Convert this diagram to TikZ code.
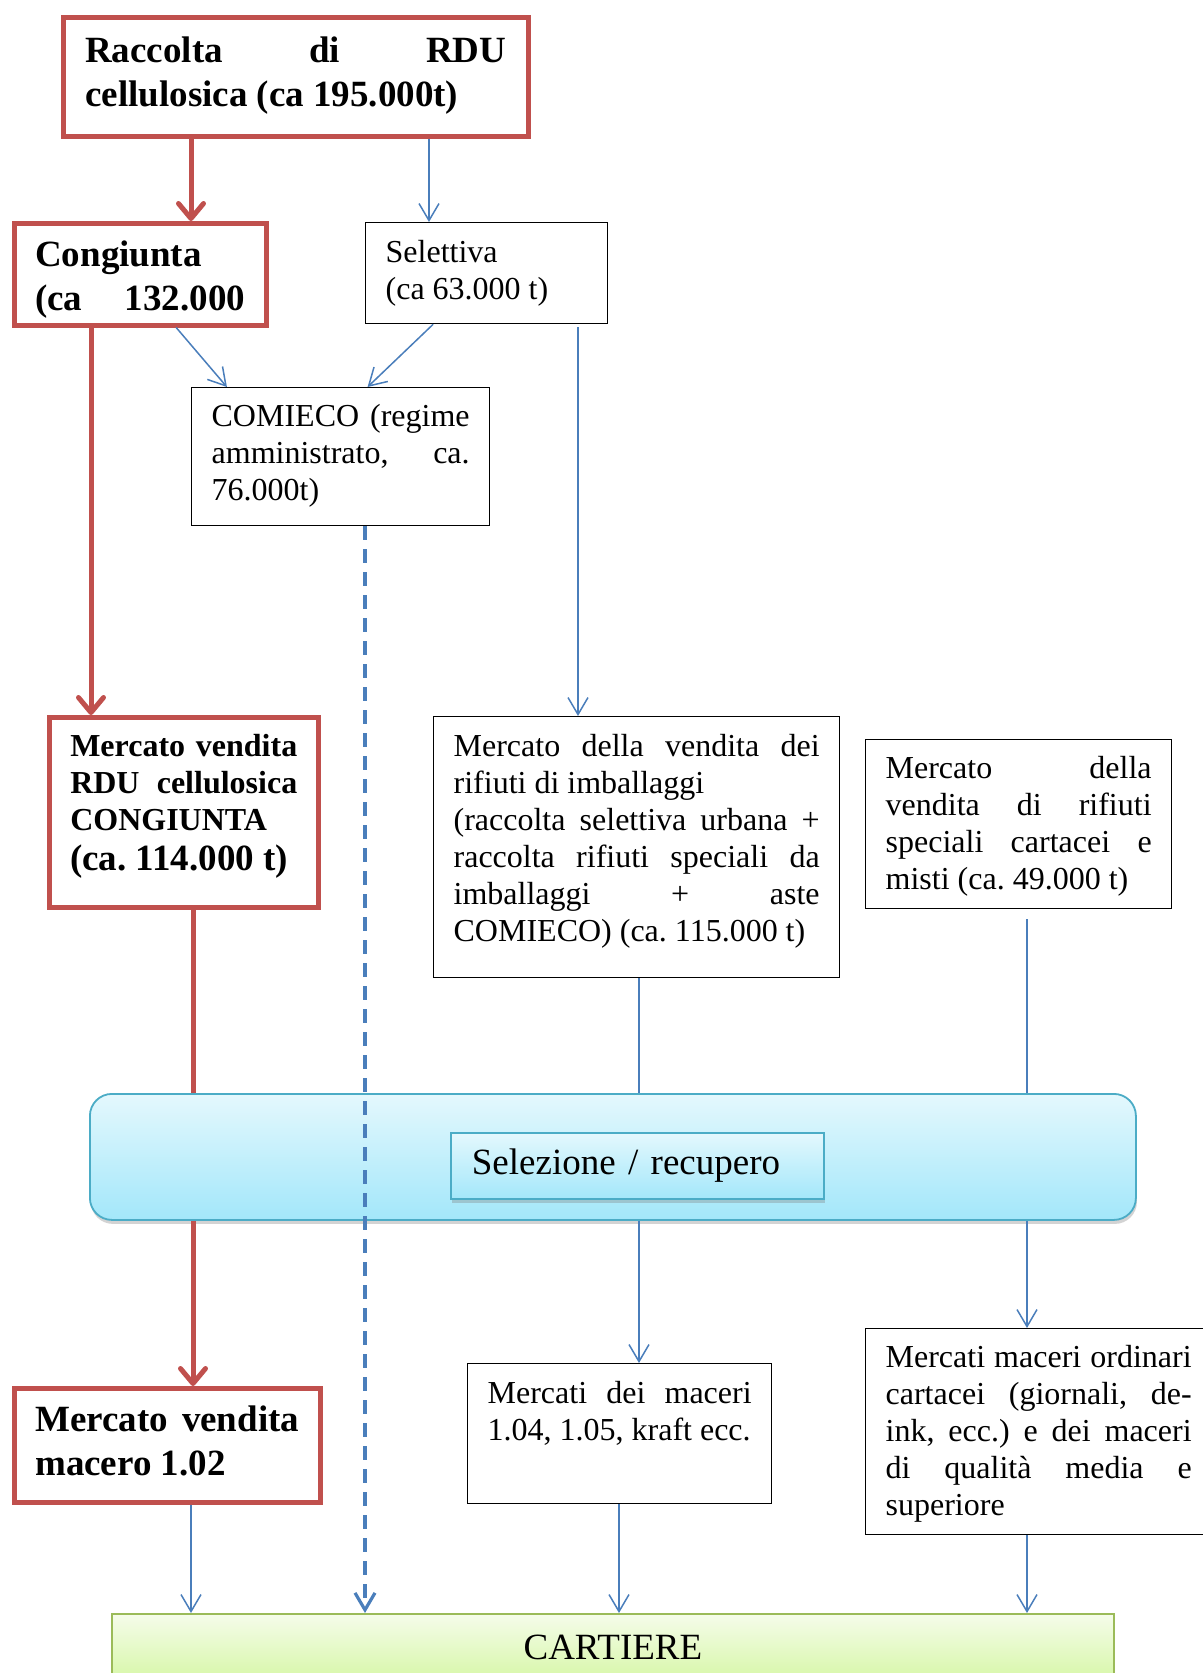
\documentclass[tikz,border=0pt]{standalone}
\usepackage{fontspec}
\setmainfont{Liberation Serif}
\usetikzlibrary{arrows.meta, calc, positioning, shadows}

\definecolor{rossoW}{HTML}{C0504D}
\definecolor{bluW}{HTML}{4A7EBB}
\definecolor{acquaBordo}{HTML}{4BACC6}
\definecolor{acquaSu}{HTML}{E4F8FD}
\definecolor{acquaGiu}{HTML}{A3E7FA}
\definecolor{verdeBordo}{HTML}{9BBB59}
\definecolor{verdeSu}{HTML}{F5FCEA}
\definecolor{verdeGiu}{HTML}{D6F7A6}

\frenchspacing
\newcommand{\testo}{\fontsize{32}{37}\selectfont}
\newcommand{\grassetto}{\bfseries\fontsize{37}{44}\selectfont}
\newcommand{\cella}[3]{\begin{minipage}[t][#2pt][t]{#1pt}\tolerance=10000\hyphenpenalty=10000\hbadness=10000 #3\end{minipage}}

\begin{document}
\begin{tikzpicture}[x=1pt, y=-1pt, >={Straight Barb[length=17pt,width=20pt]},
    rosso/.style={draw=rossoW, line width=4.5pt, anchor=north west, inner xsep=21pt, inner ysep=18pt},
    nero/.style={draw=black, line width=1.3pt, anchor=north west, inner xsep=20pt, inner ysep=18pt},
    acqua/.style={draw=acquaBordo, line width=1.8pt, top color=acquaSu, bottom color=acquaGiu,
        drop shadow={opacity=0.35, shadow xshift=1pt, shadow yshift=-4pt}, anchor=north west},
    blu/.style={draw=bluW, line width=1.5pt},
    flusso/.style={draw=rossoW, line width=5pt},
    frossa/.style={-{Straight Barb[length=15pt,width=25pt,round]}}]

    \useasboundingbox (0,0) rectangle (1202,1673);

    % colonne dei collegamenti
    \coordinate (k1) at (191,0);
    \coordinate (k2) at (91,0);
    \coordinate (k3) at (193,0);
    \coordinate (k4) at (429,0);
    \coordinate (k5) at (578,0);
    \coordinate (k6) at (365,0);
    \coordinate (k7) at (639,0);
    \coordinate (k8) at (619,0);
    \coordinate (k9) at (1027,0);

    \node[rosso, inner xsep=22pt, inner ysep=20pt] (rac) at (61,15)
        {\cella{421}{79}{\grassetto Raccolta di RDU\linebreak cellulosica (ca 195.000t)}};
    \node[rosso] (cong) at (12,221)
        {\cella{210}{66}{\grassetto Congiunta\\ \hbox to \linewidth{(ca\hfill 132.000}}};
    \node[nero] (selt) at (365,222)
        {\cella{202}{65}{\testo Selettiva\\ (ca 63.000 t)}};
    \node[nero, inner ysep=17pt] (com) at (191,387)
        {\cella{258}{104}{\testo COMIECO (regime\linebreak amministrato, ca.\linebreak 76.000t)}};

    \node[rosso, inner ysep=17pt] (mrdu) at (47,715)
        {\cella{227}{156}{\fontsize{32}{37}\bfseries\selectfont Mercato vendita\linebreak RDU cellulosica\linebreak CONGIUNTA\\[3pt] {\fontsize{37}{44}\selectfont (ca. 114.000 t)}}};
    \node[nero] (imb) at (433,716)
        {\cella{366}{225}{\testo Mercato della vendita dei\linebreak rifiuti di imballaggi\\ (raccolta selettiva urbana +\linebreak raccolta rifiuti speciali da\linebreak imballaggi + aste\linebreak COMIECO) (ca. 115.000 t)}};
    \node[nero, inner ysep=17pt] (spec) at (865,739)
        {\cella{266}{135}{\testo Mercato della\linebreak vendita di rifiuti\linebreak speciali cartacei e\linebreak misti (ca. 49.000 t)}};

    \node[acqua, rounded corners=22pt, minimum width=1046pt, minimum height=126pt, inner sep=0pt] (selz) at (89,1093) {};
    \node[acqua, minimum width=373pt, minimum height=66pt, text width=331pt, inner xsep=21pt, align=left,
        font=\fontsize{37}{44}\selectfont] (selzt) at (450,1132) {Selezione / recupero};

    \node[rosso] (mac) at (12,1386)
        {\cella{264}{78}{\grassetto Mercato vendita\linebreak macero 1.02}};
    \node[nero] (mdm) at (467,1363)
        {\cella{264}{104}{\testo Mercati dei maceri\linebreak 1.04, 1.05, kraft ecc.}};
    \node[nero, inner ysep=17pt] (mord) at (865,1328)
        {\cella{306}{172}{\testo Mercati maceri ordinari\linebreak cartacei (giornali, de-\linebreak ink, ecc.) e dei maceri\linebreak di qualità media e\linebreak superiore}};

    \node[draw=verdeBordo, line width=1.8pt, top color=verdeSu, bottom color=verdeGiu, anchor=north west,
        drop shadow={opacity=0.3, shadow xshift=1pt, shadow yshift=-3pt},
        minimum width=1002pt, minimum height=68pt, font=\fontsize{37}{44}\selectfont] (cart) at (111,1613) {CARTIERE};

    % raccolta congiunta
    \draw[flusso, frossa] (rac.south -| k1) -- (cong.north -| k1);
    \draw[flusso, frossa] (cong.south -| k2) -- (mrdu.north -| k2);
    \draw[flusso] (mrdu.south -| k3) -- (selz.north -| k3);
    \draw[flusso, frossa] (selz.south -| k3) -- (mac.north -| k3);

    % raccolta selettiva
    \draw[blu, ->] (rac.south -| k4) -- (selt.north -| k4);
    \draw[blu, ->] ($(cong.south west)!0.64!(cong.south east)$) -- ($(com.north west)!0.12!(com.north east)$);
    \draw[blu, ->] ($(selt.south west)!0.28!(selt.south east)$) -- ($(com.north west)!0.59!(com.north east)$);
    \draw[blu, ->, shorten <=3pt] (selt.south -| k5) -- (imb.north -| k5);
    \draw[blu, line width=3.2pt, dash pattern=on 14pt off 9pt, ->] (com.south -| k6) -- (cart.north -| k6);

    % selezione
    \draw[blu] (imb.south -| k7) -- (selz.north -| k7);
    \draw[blu, shorten <=10pt] (spec.south -| k9) -- (selz.north -| k9);
    \draw[blu, ->] (selz.south -| k7) -- (mdm.north -| k7);
    \draw[blu, ->] (selz.south -| k9) -- (mord.north -| k9);

    % cartiere
    \draw[blu, ->] (mac.south -| k1) -- (cart.north -| k1);
    \draw[blu, ->] (mdm.south -| k8) -- (cart.north -| k8);
    \draw[blu, ->] (mord.south -| k9) -- (cart.north -| k9);
\end{tikzpicture}
\end{document}
